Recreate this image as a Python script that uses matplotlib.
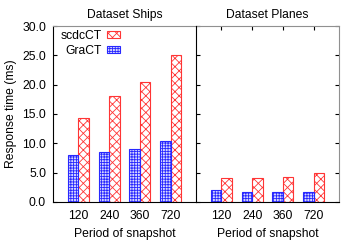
import numpy as np
import matplotlib
matplotlib.use("Agg")
import matplotlib.pyplot as plt

plt.rcParams["font.family"] = ["Liberation Sans", "DejaVu Sans"]
plt.rcParams["font.size"] = 8.7
plt.rcParams["hatch.linewidth"] = 0.6

periods = ["120", "240", "360", "720"]
ships_scdcct = [14.4, 18.0, 20.5, 25.1]
ships_gract = [8.0, 8.55, 9.05, 10.4]
planes_scdcct = [4.05, 4.1, 4.25, 4.9]
planes_gract = [2.0, 1.65, 1.65, 1.65]

fig = plt.figure(figsize=(3.57, 2.5), dpi=100)
ax1 = fig.add_axes([0.1485, 0.192, 0.4006, 0.704])
ax2 = fig.add_axes([0.549, 0.192, 0.4006, 0.704])

x = np.arange(len(periods))
w = 0.34
gray = "#909090"

for ax, scdc, gract, title in [(ax1, ships_scdcct, ships_gract, "Dataset Ships"),
                               (ax2, planes_scdcct, planes_gract, "Dataset Planes")]:
    ax.bar(x + w / 2, scdc, w, facecolor="white", edgecolor="#ff3535",
           hatch="xxxx", linewidth=0.8, label="scdcCT")
    ax.bar(x - w / 2, gract, w, facecolor="#d8d8ff", edgecolor="#2828ff",
           hatch="++++++", linewidth=0.8, label="GraCT")
    ax.set_xlim(-0.83, 3.83)
    ax.set_ylim(0, 30)
    ax.set_xticks(x)
    ax.set_xticklabels(periods)
    ax.set_yticks(np.arange(0, 31, 5))
    ax.set_title(title, fontsize=8.7, pad=6)
    ax.set_xlabel("Period of snapshot", labelpad=4)
    for s in ax.spines.values():
        s.set_linewidth(0.8)
    ax.spines["top"].set_color(gray)

ax1.yaxis.set_major_formatter(matplotlib.ticker.FormatStrFormatter("%.1f"))
ax1.set_ylabel("Response time (ms)", labelpad=4)
ax1.tick_params(axis="y", direction="in", length=3, width=0.8, left=True, right=False, pad=5)
ax1.tick_params(axis="x", length=0, pad=6)
ax1.spines["right"].set_visible(False)

ax2.tick_params(axis="y", direction="in", length=3, width=0.8, left=True, right=True,
                labelleft=False, labelright=False)
ax2.tick_params(axis="x", direction="in", length=3, width=0.8, bottom=False, top=True, pad=6)
ax2.spines["right"].set_color(gray)
ax2.spines["left"].set_zorder(5)

ax1.legend(loc="upper left", bbox_to_anchor=(0.0, 1.02), frameon=False, markerfirst=False,
           handlelength=1.0, handleheight=0.6, handletextpad=0.5, labelspacing=0.25,
           fontsize=8.7, borderaxespad=0.2)

fig.savefig("out.png", dpi=100)
